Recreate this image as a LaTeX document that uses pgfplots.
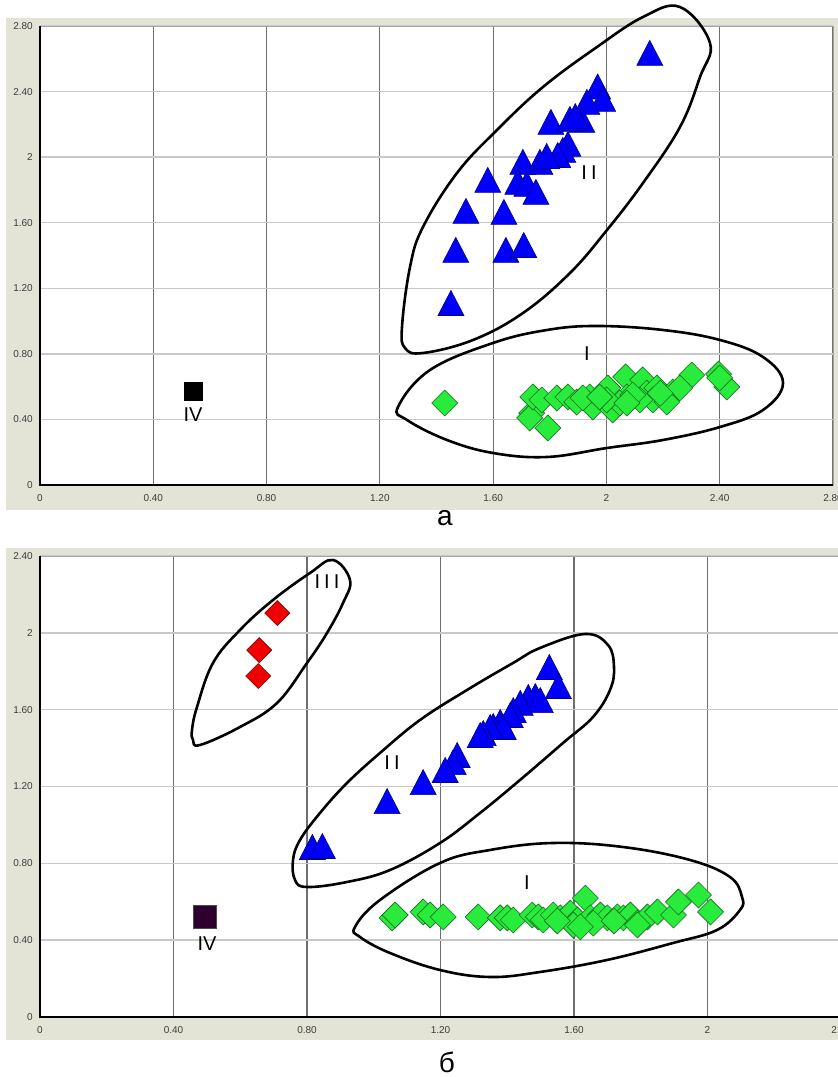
\documentclass[border=0pt]{standalone}
\usepackage{fontspec}
\setmainfont{Liberation Sans}
\usepackage{pgfplots}
\pgfplotsset{compat=1.18}
\definecolor{framebg}{RGB}{228,228,214}
\definecolor{vgrid}{RGB}{110,110,110}
\definecolor{hgrid}{RGB}{200,200,200}
\definecolor{ggreen}{RGB}{40,235,60}
\definecolor{ggreenD}{RGB}{20,110,30}
\definecolor{bblue}{RGB}{0,0,250}
\definecolor{bblueD}{RGB}{0,0,130}
\definecolor{rred}{RGB}{240,0,0}
\definecolor{rredD}{RGB}{130,0,0}
\definecolor{ppurple}{RGB}{45,0,45}
\definecolor{ticktext}{RGB}{60,60,60}
\pgfdeclareplotmark{mytri}{%
  \pgfpathmoveto{\pgfqpoint{0pt}{\pgfplotmarksize}}%
  \pgfpathlineto{\pgfqpoint{-1.04\pgfplotmarksize}{-\pgfplotmarksize}}%
  \pgfpathlineto{\pgfqpoint{1.04\pgfplotmarksize}{-\pgfplotmarksize}}%
  \pgfpathclose\pgfusepathqfillstroke}
\pgfdeclareplotmark{mydia}{%
  \pgfpathmoveto{\pgfqpoint{0pt}{\pgfplotmarksize}}%
  \pgfpathlineto{\pgfqpoint{\pgfplotmarksize}{0pt}}%
  \pgfpathlineto{\pgfqpoint{0pt}{-\pgfplotmarksize}}%
  \pgfpathlineto{\pgfqpoint{-\pgfplotmarksize}{0pt}}%
  \pgfpathclose\pgfusepathqfillstroke}
\pgfdeclareplotmark{mysq}{%
  \pgfpathrectanglecorners{\pgfqpoint{-\pgfplotmarksize}{-\pgfplotmarksize}}{\pgfqpoint{\pgfplotmarksize}{\pgfplotmarksize}}%
  \pgfusepathqfillstroke}
\pgfplotsset{
  panel/.style={
    scale only axis,
    axis background/.style={fill=white},
    axis line style={draw=gray!70, line width=0.8pt},
    major tick length=0pt,
    grid=major,
    x grid style={draw=vgrid, line width=1.2pt},
    y grid style={draw=hgrid, line width=1.4pt},
    ticklabel style={font=\fontsize{10}{11}\selectfont, text=ticktext},
    yticklabel style={inner sep=0pt, xshift=-7pt},
    xticklabel style={inner sep=0pt, yshift=-9pt},
    clip=false,
  },
  gpts/.style={only marks, mark=mydia, mark size=13pt, mark options={fill=ggreen, draw=ggreenD, line width=0.6pt}},
  bpts/.style={only marks, mark=mytri, mark size=12.5pt, mark options={fill=bblue, draw=bblueD, line width=0.6pt}},
}
\newcommand{\romlab}[1]{\fontsize{20}{20}\selectfont #1}
\begin{document}
\begin{tikzpicture}[x=1pt,y=1pt]
% gray frames
\fill[framebg] (6,567) rectangle (838,1059);
\fill[framebg] (6,37) rectangle (838,529);
% ---------- panel a ----------
\begin{axis}[panel, at={(40pt,592pt)}, anchor=south west,
  width=793pt, height=459pt, xmin=0, xmax=2.8, ymin=0, ymax=2.8,
  xtick={0,0.4,0.8,1.2,1.6,2,2.4,2.8},
  xticklabels={0,0.40,0.80,1.20,1.60,2,2.40,2.80},
  ytick={0,0.4,0.8,1.2,1.6,2,2.4,2.8},
  yticklabels={0,0.40,0.80,1.20,1.60,2,2.40,2.80}]
\draw[black, line width=2pt] (rel axis cs:0,1) -- (rel axis cs:0,0) -- (rel axis cs:1,0);
\addplot[gpts] coordinates {
(1.429,0.500) (2.301,0.671) (2.396,0.677) (2.425,0.598) (2.400,0.653)
(1.736,0.439) (1.729,0.409) (1.793,0.348) (1.740,0.537) (1.772,0.519)
(1.825,0.531) (1.864,0.537) (1.895,0.506) (1.941,0.537) (1.952,0.476)
(1.984,0.549) (2.022,0.458) (2.005,0.592) (2.068,0.659) (2.072,0.537)
(2.093,0.537) (2.128,0.641) (2.142,0.561) (2.178,0.592) (2.199,0.537)
(2.234,0.567) (2.259,0.592) (2.047,0.500) (2.001,0.519) (2.164,0.519)
(2.213,0.506) (2.118,0.519) (1.917,0.531) (2.190,0.560) (1.976,0.537)
(2.093,0.549) (2.072,0.500)
};
\addplot[bpts] coordinates {
(2.153,2.636) (1.969,2.431) (1.987,2.355) (1.931,2.337) (1.913,2.227)
(1.804,2.215) (1.871,2.233) (1.890,2.250) (1.864,2.081) (1.846,2.044)
(1.828,2.013) (1.705,1.971) (1.765,1.971) (1.789,2.007) (1.581,1.861)
(1.687,1.849) (1.719,1.837) (1.751,1.788) (1.504,1.672) (1.638,1.666)
(1.468,1.434) (1.645,1.434) (1.708,1.464) (1.451,1.110)
};
\addplot[only marks, mark=mysq, mark size=9pt, mark options={fill=black, draw=black}] coordinates {(0.540,0.573)};
\end{axis}
% ---------- panel b ----------
\begin{axis}[panel, at={(40pt,60pt)}, anchor=south west,
  width=801pt, height=461pt, xmin=0, xmax=2.4, ymin=0, ymax=2.4,
  xtick={0,0.4,0.8,1.2,1.6,2,2.4},
  xticklabels={0,0.40,0.80,1.20,1.60,2,2.40},
  ytick={0,0.4,0.8,1.2,1.6,2,2.4},
  yticklabels={0,0.40,0.80,1.20,1.60,2,2.40}]
\draw[black, line width=2pt] (rel axis cs:0,1) -- (rel axis cs:0,0) -- (rel axis cs:1,0);
\addplot[gpts] coordinates {
(1.055,0.516) (1.064,0.531) (1.148,0.547) (1.169,0.531) (1.208,0.521)
(1.313,0.521) (1.379,0.516) (1.400,0.516) (1.418,0.505) (1.475,0.531)
(1.493,0.521) (1.508,0.505) (1.538,0.531) (1.559,0.516) (1.589,0.541)
(1.634,0.619) (1.610,0.505) (1.649,0.516) (1.679,0.531) (1.700,0.516)
(1.730,0.521) (1.748,0.516) (1.769,0.531) (1.790,0.489) (1.820,0.521)
(1.850,0.547) (1.898,0.531) (1.913,0.599) (1.973,0.635) (2.009,0.547)
(1.658,0.489) (1.598,0.479) (1.619,0.469) (1.790,0.479) (1.720,0.500)
(1.550,0.500)
};
\addplot[bpts] coordinates {
(1.526,1.822) (1.553,1.723) (1.463,1.666) (1.484,1.671) (1.499,1.650)
(1.439,1.635) (1.418,1.598) (1.409,1.572) (1.379,1.536) (1.358,1.515)
(1.388,1.510) (1.349,1.510) (1.328,1.478) (1.319,1.468) (1.250,1.364)
(1.238,1.327) (1.214,1.286) (1.148,1.223) (1.040,1.124) (0.816,0.885)
(0.846,0.890)
};
\addplot[only marks, mark=mydia, mark size=12.5pt, mark options={fill=rred, draw=rredD, line width=0.6pt}] coordinates {
(0.711,2.103) (0.657,1.910) (0.654,1.775)
};
\addplot[only marks, mark=mysq, mark size=11.5pt, mark options={fill=ppurple, draw=gray!60!black, line width=0.6pt}] coordinates {(0.493,0.520)};
\end{axis}
% ---------- annotations (pixel coordinates, y downward) ----------
\begin{scope}[shift={(0,1077)}, yscale=-1]
\draw[line width=2.6pt, line join=round] plot[smooth cycle, tension=0.65] coordinates {
(680,7) (710,43) (700,77) (680,127) (643,183) (607,230) (570,273) (523,313)
(473,340) (423,353) (405,348) (402,327) (410,267) (423,227) (457,173) (497,130)
(543,87) (597,47) (643,17)};
\draw[line width=2.6pt] plot[smooth cycle, tension=0.65] coordinates {
(398,407) (430,370) (493,343) (547,330) (597,326) (663,330) (720,340) (763,357)
(783,383) (763,410) (720,427) (663,440) (607,448) (547,457) (493,453) (447,440) (407,420)};
\draw[line width=2.6pt] plot[smooth cycle, tension=0.65] coordinates {
(333,560) (350,580) (343,603) (327,633) (307,663) (277,703) (240,727) (200,745)
(193,740) (192,730) (197,707) (213,663) (240,630) (273,600) (310,573)};
\draw[line width=2.6pt] plot[smooth cycle, tension=0.65] coordinates {
(585,634) (608,645) (614,667) (610,690) (593,717) (563,743) (520,780) (480,813)
(440,843) (390,870) (347,882) (307,887) (295,880) (293,860) (300,840) (320,813)
(347,783) (380,753) (420,720) (467,690) (513,663) (540,648)};
\draw[line width=2.6pt] plot[smooth cycle, tension=0.65] coordinates {
(355,927) (380,900) (440,863) (490,850) (553,843) (623,847) (690,860) (730,877)
(742,897) (740,910) (717,930) (673,943) (607,960) (540,972) (490,977) (440,970)
(390,953) (360,937)};
\node at (589,173) {\romlab{I\hspace{4pt}I}};
\node at (587,354) {\romlab{I}};
\node at (193,415) {\romlab{IV}};
\node at (327,582) {\romlab{I\hspace{4pt}I\hspace{4pt}I}};
\node at (392,763) {\romlab{I\hspace{4pt}I}};
\node at (527,883) {\romlab{I}};
\node at (207,944) {\romlab{IV}};
\node at (445,518) {\fontsize{28}{28}\selectfont а};
\node at (447,1062) {\fontsize{28}{28}\selectfont б};
\end{scope}
\pgfresetboundingbox
\useasboundingbox (0,0) rectangle (838,1077);
\end{tikzpicture}
\end{document}
